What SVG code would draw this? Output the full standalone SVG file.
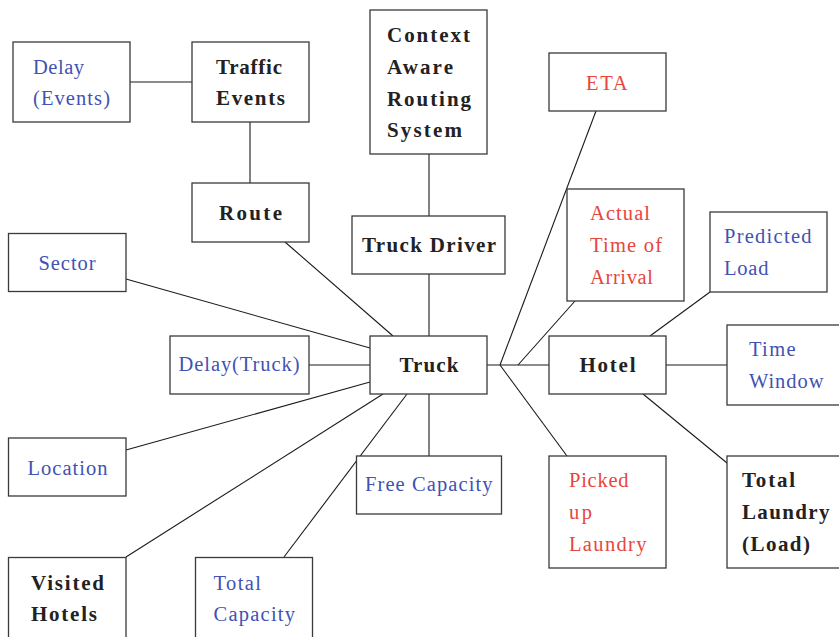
<svg xmlns="http://www.w3.org/2000/svg" width="839" height="637" viewBox="0 0 839 637">
  <style>
    .box { fill: #ffffff; stroke: #3a3a3a; stroke-width: 1.3; }
    .edge { fill: none; stroke: #1a1a1a; stroke-width: 1.1; }
    text { font-family: "Liberation Serif", "Times New Roman", serif; font-size: 20.5px; }
    .b { fill: #222222; font-weight: bold; font-size: 21px; }
    .blue { fill: #4152b3; }
    .red { fill: #e8453c; }
  </style>
  <rect width="839" height="637" fill="#ffffff"/>

  <!-- connectors -->
  <g id="connectors">
    <line class="edge" x1="130" y1="82" x2="192" y2="82"/>
    <line class="edge" x1="250" y1="122" x2="250" y2="183"/>
    <line class="edge" x1="429" y1="154" x2="429" y2="216"/>
    <line class="edge" x1="429" y1="274" x2="429" y2="336"/>
    <line class="edge" x1="285" y1="242" x2="393" y2="336"/>
    <line class="edge" x1="126" y1="279" x2="370" y2="348"/>
    <line class="edge" x1="309" y1="365" x2="370" y2="365"/>
    <line class="edge" x1="126" y1="450" x2="370" y2="382"/>
    <line class="edge" x1="126" y1="557" x2="383" y2="394"/>
    <line class="edge" x1="284" y1="557" x2="407" y2="394"/>
    <line class="edge" x1="429" y1="394" x2="429" y2="456"/>
    <line class="edge" x1="487" y1="365" x2="549" y2="365"/>
    <line class="edge" x1="500" y1="365" x2="596" y2="111"/>
    <line class="edge" x1="518" y1="365" x2="575" y2="301"/>
    <line class="edge" x1="500" y1="365" x2="567" y2="456"/>
    <line class="edge" x1="650" y1="336" x2="710" y2="292"/>
    <line class="edge" x1="666" y1="365" x2="727" y2="365"/>
    <line class="edge" x1="643" y1="394" x2="727" y2="463"/>
  </g>

  <g id="delay-events">
    <rect class="box" x="13" y="42" width="117" height="80"/>
    <text class="blue" x="33" y="74" textLength="51" lengthAdjust="spacing">Delay</text>
    <text class="blue" x="33" y="105" textLength="77" lengthAdjust="spacing">(Events)</text>
  </g>
  <g id="traffic-events">
    <rect class="box" x="192" y="42" width="117" height="80"/>
    <text class="b" x="216" y="73.5" textLength="66" lengthAdjust="spacing">Traffic</text>
    <text class="b" x="216" y="105" textLength="69" lengthAdjust="spacing">Events</text>
  </g>
  <g id="route">
    <rect class="box" x="192" y="183" width="117" height="59"/>
    <text class="b" x="219" y="219.5" textLength="63" lengthAdjust="spacing">Route</text>
  </g>
  <g id="context-aware-routing-system">
    <rect class="box" x="370" y="10" width="117" height="144"/>
    <text class="b" x="387" y="41.5" textLength="83" lengthAdjust="spacing">Context</text>
    <text class="b" x="387" y="73.5" textLength="66" lengthAdjust="spacing">Aware</text>
    <text class="b" x="387" y="105.5" textLength="84" lengthAdjust="spacing">Routing</text>
    <text class="b" x="387" y="137" textLength="75" lengthAdjust="spacing">System</text>
  </g>
  <g id="truck-driver">
    <rect class="box" x="352" y="216" width="153" height="58"/>
    <text class="b" x="362" y="251.5" textLength="134" lengthAdjust="spacing">Truck Driver</text>
  </g>
  <g id="eta">
    <rect class="box" x="549" y="53" width="117" height="58"/>
    <text class="red" x="586" y="89.5" textLength="41.5" lengthAdjust="spacing">ETA</text>
  </g>
  <g id="actual-time-of-arrival">
    <rect class="box" x="567" y="189" width="117" height="112"/>
    <text class="red" x="590" y="219.5" textLength="60" lengthAdjust="spacing">Actual</text>
    <text class="red" x="590" y="251.5" textLength="72" lengthAdjust="spacing">Time of</text>
    <text class="red" x="590" y="283.5" textLength="63" lengthAdjust="spacing">Arrival</text>
  </g>
  <g id="predicted-load">
    <rect class="box" x="710" y="212" width="117" height="80"/>
    <text class="blue" x="724" y="242.5" textLength="87.5" lengthAdjust="spacing">Predicted</text>
    <text class="blue" x="724" y="274.5" textLength="44.5" lengthAdjust="spacing">Load</text>
  </g>
  <g id="sector">
    <rect class="box" x="8.5" y="233.5" width="117.5" height="58"/>
    <text class="blue" x="38.5" y="270" textLength="57" lengthAdjust="spacing">Sector</text>
  </g>
  <g id="delay-truck">
    <rect class="box" x="170" y="336" width="139" height="58"/>
    <text class="blue" x="178.5" y="371" textLength="121" lengthAdjust="spacing">Delay(Truck)</text>
  </g>
  <g id="truck">
    <rect class="box" x="370" y="336" width="117" height="58"/>
    <text class="b" x="399.5" y="371.5" textLength="59" lengthAdjust="spacing">Truck</text>
  </g>
  <g id="hotel">
    <rect class="box" x="549" y="336" width="117" height="58"/>
    <text class="b" x="579.5" y="371.5" textLength="56" lengthAdjust="spacing">Hotel</text>
  </g>
  <g id="time-window">
    <rect class="box" x="727" y="325" width="120" height="80"/>
    <text class="blue" x="749" y="356" textLength="46.5" lengthAdjust="spacing">Time</text>
    <text class="blue" x="749" y="387.5" textLength="74.5" lengthAdjust="spacing">Window</text>
  </g>
  <g id="location">
    <rect class="box" x="8.5" y="438" width="117.5" height="58"/>
    <text class="blue" x="27.5" y="474.5" textLength="80" lengthAdjust="spacing">Location</text>
  </g>
  <g id="free-capacity">
    <rect class="box" x="356.5" y="456" width="145" height="58"/>
    <text class="blue" x="365" y="490.5" textLength="127.5" lengthAdjust="spacing">Free Capacity</text>
  </g>
  <g id="picked-up-laundry">
    <rect class="box" x="549" y="456" width="117" height="112"/>
    <text class="red" x="569" y="486.5" textLength="59.5" lengthAdjust="spacing">Picked</text>
    <text class="red" x="569" y="518.5" textLength="23" lengthAdjust="spacing">up</text>
    <text class="red" x="569" y="550.5" textLength="77.5" lengthAdjust="spacing">Laundry</text>
  </g>
  <g id="total-laundry-load">
    <rect class="box" x="727" y="456" width="120" height="112"/>
    <text class="b" x="742" y="486.5" textLength="53" lengthAdjust="spacing">Total</text>
    <text class="b" x="742" y="518.5" textLength="87.5" lengthAdjust="spacing">Laundry</text>
    <text class="b" x="742" y="550.5" textLength="68" lengthAdjust="spacing">(Load)</text>
  </g>
  <g id="visited-hotels">
    <rect class="box" x="8.5" y="557.5" width="117.5" height="90"/>
    <text class="b" x="31" y="589.5" textLength="73" lengthAdjust="spacing">Visited</text>
    <text class="b" x="31" y="620.5" textLength="66" lengthAdjust="spacing">Hotels</text>
  </g>
  <g id="total-capacity">
    <rect class="box" x="195.5" y="557.5" width="117" height="90"/>
    <text class="blue" x="213.5" y="589.5" textLength="47.5" lengthAdjust="spacing">Total</text>
    <text class="blue" x="213.5" y="620.5" textLength="81.5" lengthAdjust="spacing">Capacity</text>
  </g>
</svg>
